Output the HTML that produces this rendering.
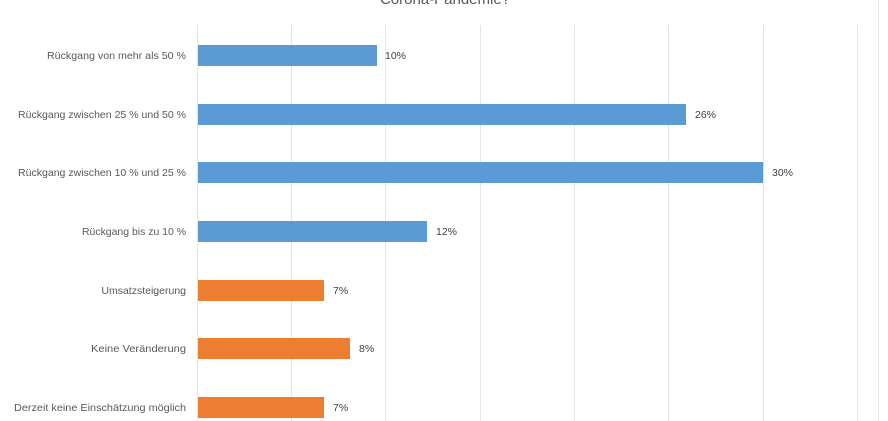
<!DOCTYPE html>
<html><head><meta charset="utf-8"><style>
html,body{margin:0;padding:0;background:#fff;width:888px;height:421px;overflow:hidden}
</style></head><body>
<svg width="888" height="421" xmlns="http://www.w3.org/2000/svg" font-family="Liberation Sans, sans-serif">
<rect width="888" height="421" fill="#fff"/>
<text x="445" y="4" text-anchor="middle" font-size="15" fill="#595959">Corona-Pandemie?</text>
<g stroke="#e3e3e3" stroke-width="1">
<line x1="197.5" y1="25" x2="197.5" y2="421"/>
<line x1="291.5" y1="25" x2="291.5" y2="421"/>
<line x1="385.5" y1="25" x2="385.5" y2="421"/>
<line x1="480.5" y1="25" x2="480.5" y2="421"/>
<line x1="574.5" y1="25" x2="574.5" y2="421"/>
<line x1="668.5" y1="25" x2="668.5" y2="421"/>
<line x1="763.5" y1="25" x2="763.5" y2="421"/>
<line x1="857.5" y1="25" x2="857.5" y2="421"/>
<line x1="878.5" y1="0" x2="878.5" y2="421" stroke="#ececec"/>
</g>
<g fill="#5b9bd5">
<rect x="198" y="45" width="179" height="21"/>
<rect x="198" y="104" width="488" height="21"/>
<rect x="198" y="162" width="565" height="21"/>
<rect x="198" y="221" width="229" height="21"/>
</g>
<g fill="#ed7d31">
<rect x="198" y="280" width="126" height="21"/>
<rect x="198" y="338" width="152" height="21"/>
<rect x="198" y="397" width="126" height="21"/>
</g>
<g font-size="10.5" fill="#595959" text-anchor="end">
<text x="186" y="59" textLength="139" lengthAdjust="spacingAndGlyphs">Rückgang von mehr als 50 %</text>
<text x="186" y="118" textLength="168" lengthAdjust="spacingAndGlyphs">Rückgang zwischen 25 % und 50 %</text>
<text x="186" y="176" textLength="168" lengthAdjust="spacingAndGlyphs">Rückgang zwischen 10 % und 25 %</text>
<text x="186" y="235" textLength="104" lengthAdjust="spacingAndGlyphs">Rückgang bis zu 10 %</text>
<text x="186" y="294">Umsatzsteigerung</text>
<text x="186" y="352" textLength="95" lengthAdjust="spacingAndGlyphs">Keine Veränderung</text>
<text x="186" y="411" textLength="172" lengthAdjust="spacingAndGlyphs">Derzeit keine Einschätzung möglich</text>
</g>
<g font-size="10.5" fill="#404040">
<text x="385" y="59">10%</text>
<text x="695" y="118">26%</text>
<text x="772" y="176">30%</text>
<text x="436" y="235">12%</text>
<text x="333" y="294">7%</text>
<text x="359" y="352">8%</text>
<text x="333" y="411">7%</text>
</g>
</svg>
</body></html>
